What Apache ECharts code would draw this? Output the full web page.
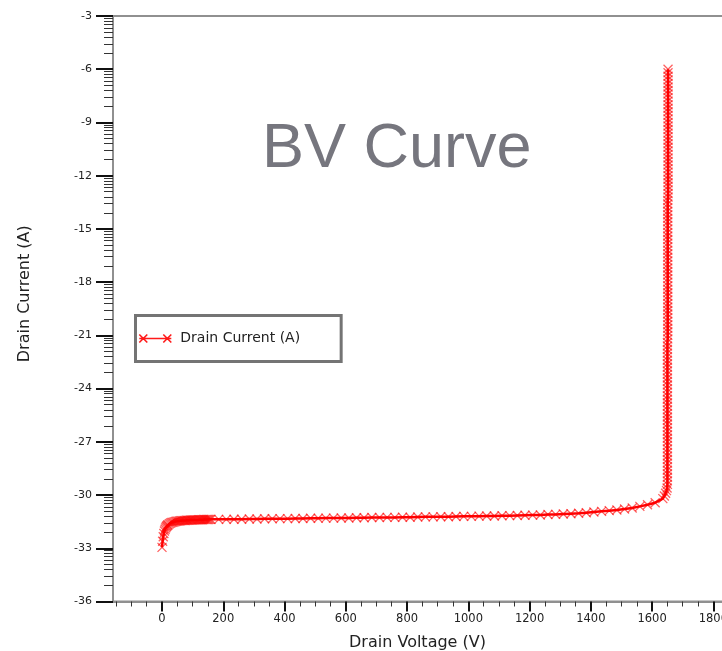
<!DOCTYPE html>
<html>
<head>
<meta charset="utf-8">
<title>BV Curve</title>
<script src="https://cdn.jsdelivr.net/npm/echarts@6/dist/echarts.min.js"></script>
<style>
  html, body { margin: 0; padding: 0; background: #fff; }
  #chart { width: 722px; height: 651px; }
</style>
</head>
<body>
<div id="chart"></div>
<script>
// Breakdown-voltage sweep: drain voltage (V) and log10 drain current
const drainVoltage = [
  // low-voltage ramp
  0, 2, 4, 6, 8, 10, 12, 14, 16, 18, 20, 24, 28, 32, 36, 40, 44, 48, 52, 56,
  60, 64, 68, 72, 76, 80, 84, 88, 92, 96, 100, 104, 108, 112, 116, 120, 124, 128, 132, 136,
  140, 144, 148, 152, 156, 160,
  // leakage plateau
  185, 210, 235, 260, 285, 310, 335, 360, 385, 410, 435, 460, 485, 510, 535, 560, 585, 610, 635, 660,
  685, 710, 735, 760, 785, 810, 835, 860, 885, 910, 935, 960, 985, 1010, 1035, 1060, 1085, 1110, 1135, 1160,
  1185, 1210, 1235, 1260, 1285, 1310, 1335, 1360, 1385, 1410, 1435, 1460, 1485, 1510, 1535, 1560, 1585, 1610, 1635,
  // knee
  1640, 1644, 1647, 1649, 1650,
  // avalanche
  1650, 1650, 1650, 1650, 1650, 1650, 1650, 1650, 1650, 1650,
  1650, 1650, 1650, 1650, 1650, 1650, 1650, 1650, 1650, 1650,
  1650, 1650, 1650, 1650, 1650, 1650, 1650, 1650, 1650, 1650,
  1650, 1650, 1650, 1650, 1650, 1650, 1650, 1650, 1650, 1650,
  1651, 1651, 1651, 1651, 1651, 1651, 1651, 1651, 1651, 1651,
  1651, 1651, 1651, 1651, 1651, 1651, 1651, 1651, 1651, 1651,
  1651, 1651, 1651, 1651, 1651, 1651, 1651, 1651, 1651, 1651,
  1651, 1651, 1651, 1651, 1651, 1651, 1651, 1651, 1651, 1651,
  1652, 1652, 1652, 1652, 1652, 1652, 1652, 1652, 1652, 1652,
  1652, 1652, 1652, 1652, 1652, 1652, 1652, 1652, 1652, 1652,
  1652, 1652, 1652, 1652, 1652, 1652, 1652, 1652, 1652, 1652,
  1652, 1652, 1652, 1652, 1652, 1652, 1652
];
const drainCurrent = [
  -32.95, -32.6, -32.35, -32.17, -32.03, -31.93, -31.85, -31.79, -31.74, -31.7, -31.67, -31.62, -31.58, -31.55, -31.53, -31.51, -31.49, -31.48, -31.47, -31.46,
  -31.45, -31.44, -31.44, -31.43, -31.43, -31.42, -31.42, -31.42, -31.41, -31.41, -31.41, -31.4, -31.4, -31.4, -31.4, -31.39, -31.39, -31.39, -31.39, -31.38,
  -31.38, -31.38, -31.38, -31.38, -31.37, -31.37,
  -31.37, -31.37, -31.36, -31.36, -31.35, -31.35, -31.34, -31.34, -31.33, -31.33, -31.32, -31.32, -31.31, -31.31, -31.3, -31.3, -31.29, -31.29, -31.28, -31.28,
  -31.27, -31.27, -31.26, -31.26, -31.25, -31.25, -31.24, -31.23, -31.23, -31.22, -31.22, -31.21, -31.2, -31.2, -31.19, -31.18, -31.18, -31.17, -31.16, -31.15,
  -31.14, -31.13, -31.12, -31.1, -31.09, -31.07, -31.05, -31.03, -31.0, -30.96, -30.92, -30.88, -30.84, -30.79, -30.73, -30.64, -30.55, -30.43, -30.2,
  -30.05, -29.9, -29.75, -29.6, -29.4,
  -29.2, -29.0, -28.8, -28.6, -28.4, -28.2, -28.0, -27.8, -27.6, -27.4,
  -27.2, -27.0, -26.8, -26.6, -26.4, -26.2, -26.0, -25.8, -25.6, -25.4,
  -25.2, -25.0, -24.8, -24.6, -24.4, -24.2, -24.0, -23.8, -23.6, -23.4,
  -23.2, -23.0, -22.8, -22.6, -22.4, -22.2, -22.0, -21.8, -21.6, -21.4,
  -21.2, -21.0, -20.8, -20.6, -20.4, -20.2, -20.0, -19.8, -19.6, -19.4,
  -19.2, -19.0, -18.8, -18.6, -18.4, -18.2, -18.0, -17.8, -17.6, -17.4,
  -17.2, -17.0, -16.8, -16.6, -16.4, -16.2, -16.0, -15.8, -15.6, -15.4,
  -15.2, -15.0, -14.8, -14.6, -14.4, -14.2, -14.0, -13.8, -13.6, -13.4,
  -13.2, -13.0, -12.8, -12.6, -12.4, -12.2, -12.0, -11.8, -11.6, -11.4,
  -11.2, -11.0, -10.8, -10.6, -10.4, -10.2, -10.0, -9.8, -9.6, -9.4,
  -9.2, -9.0, -8.8, -8.6, -8.4, -8.2, -8.0, -7.8, -7.6, -7.4,
  -7.2, -7.0, -6.8, -6.6, -6.4, -6.2, -6.0
];

// Axis ticks
const voltageTicks = [0, 200, 400, 600, 800, 1000, 1200, 1400, 1600, 1800];
const voltageMinorTicks = [-150, -100, -50, 50, 100, 150, 250, 300, 350, 450, 500, 550, 650, 700, 750,
  850, 900, 950, 1050, 1100, 1150, 1250, 1300, 1350, 1450, 1500, 1550, 1650, 1700, 1750, 1850];
const currentTicks = [-36, -33, -30, -27, -24, -21, -18, -15, -12, -9, -6, -3];

// Log-style subdivisions inside every 3-unit span of the current axis
const currentMinorTicks = [];
for (let i = 0; i < currentTicks.length - 1; i++) {
  for (let k = 2; k <= 9; k++) {
    currentMinorTicks.push(currentTicks[i] + 3 * Math.log10(k));
  }
}

const points = drainVoltage.map((v, i) => [v, drainCurrent[i]]);

const FONT = 'DejaVu Sans';
const crossSymbol = 'path://M0,0L10,10M10,0L0,10';
const plainNumber = (v) => String(v);

const chart = echarts.init(document.getElementById('chart'), null, { renderer: 'canvas' });

chart.setOption({
  animation: false,
  backgroundColor: '#ffffff',
  title: {
    text: 'BV Curve',
    left: 262,
    top: 118,
    padding: 0,
    textStyle: {
      fontFamily: 'Liberation Sans',
      fontSize: 63,
      fontWeight: 'normal',
      color: '#76767e'
    }
  },
  legend: {
    left: 135.5,
    top: 315.5,
    orient: 'vertical',
    padding: [16, 41, 16, 3],
    borderColor: '#747474',
    borderWidth: 3,
    borderRadius: 0,
    backgroundColor: '#ffffff',
    itemWidth: 32,
    itemHeight: 8,
    icon: 'path://M0,6L32,6M0,2L8,10M8,2L0,10M24,2L32,10M32,2L24,10',
    itemStyle: {
      color: 'rgba(0,0,0,0)',
      borderColor: '#ff1a1a',
      borderWidth: 1.6
    },
    textStyle: {
      fontFamily: FONT,
      fontSize: 14,
      color: '#222',
      padding: [0, 0, 0, 4]
    },
    data: ['Drain Current (A)']
  },
  grid: {
    left: 113,
    top: 16,
    right: -22,
    bottom: 49.5,
    show: true,
    borderColor: '#909090',
    borderWidth: 2,
    containLabel: false,
    outerBoundsMode: 'none'
  },
  xAxis: [
    {
      type: 'value',
      min: -160,
      max: 1900,
      position: 'bottom',
      name: 'Drain Voltage (V)',
      nameLocation: 'middle',
      nameGap: 33,
      nameTextStyle: {
        fontFamily: FONT,
        fontSize: 16,
        color: '#222',
        padding: [0, 22, 0, 0]
      },
      axisLine: { show: true, onZero: false, lineStyle: { color: '#909090', width: 2 } },
      axisTick: {
        show: true,
        length: 10,
        customValues: voltageTicks,
        lineStyle: { color: '#111', width: 2 }
      },
      axisLabel: {
        customValues: voltageTicks,
        formatter: plainNumber,
        fontFamily: FONT,
        fontSize: 11.5,
        color: '#222',
        margin: 12
      },
      splitLine: { show: false }
    },
    {
      type: 'value',
      min: -160,
      max: 1900,
      position: 'bottom',
      offset: 0,
      axisLine: { show: false, onZero: false },
      axisTick: {
        show: true,
        length: 5,
        customValues: voltageMinorTicks,
        lineStyle: { color: '#333', width: 1 }
      },
      axisLabel: { show: false },
      splitLine: { show: false }
    }
  ],
  yAxis: [
    {
      type: 'value',
      min: -36,
      max: -3,
      interval: 3,
      position: 'left',
      name: 'Drain Current (A)',
      nameLocation: 'middle',
      nameGap: 80,
      nameTextStyle: {
        fontFamily: FONT,
        fontSize: 16,
        color: '#222',
        padding: [0, 0, 0, 30]
      },
      axisLine: { show: true, onZero: false, lineStyle: { color: '#909090', width: 2 } },
      axisTick: {
        show: true,
        length: 17,
        lineStyle: { color: '#111', width: 2 }
      },
      axisLabel: {
        formatter: plainNumber,
        fontFamily: FONT,
        fontSize: 11,
        color: '#222',
        margin: 21
      },
      splitLine: { show: false }
    },
    {
      type: 'value',
      min: -36,
      max: -3,
      position: 'left',
      offset: 0,
      axisLine: { show: false, onZero: false },
      axisTick: {
        show: true,
        length: 9,
        customValues: currentMinorTicks,
        lineStyle: { color: '#333', width: 1 }
      },
      axisLabel: { show: false },
      splitLine: { show: false }
    }
  ],
  series: [
    {
      name: 'Drain Current (A)',
      type: 'line',
      xAxisIndex: 0,
      yAxisIndex: 0,
      data: points,
      symbol: crossSymbol,
      symbolSize: 9,
      showSymbol: true,
      showAllSymbol: true,
      lineStyle: { color: '#ff0000', width: 2.5 },
      itemStyle: {
        color: 'rgba(0,0,0,0)',
        borderColor: 'rgba(255,0,0,0.62)',
        borderWidth: 1.3
      },
      emphasis: { disabled: true },
      z: 3
    }
  ]
});
</script>
</body>
</html>
